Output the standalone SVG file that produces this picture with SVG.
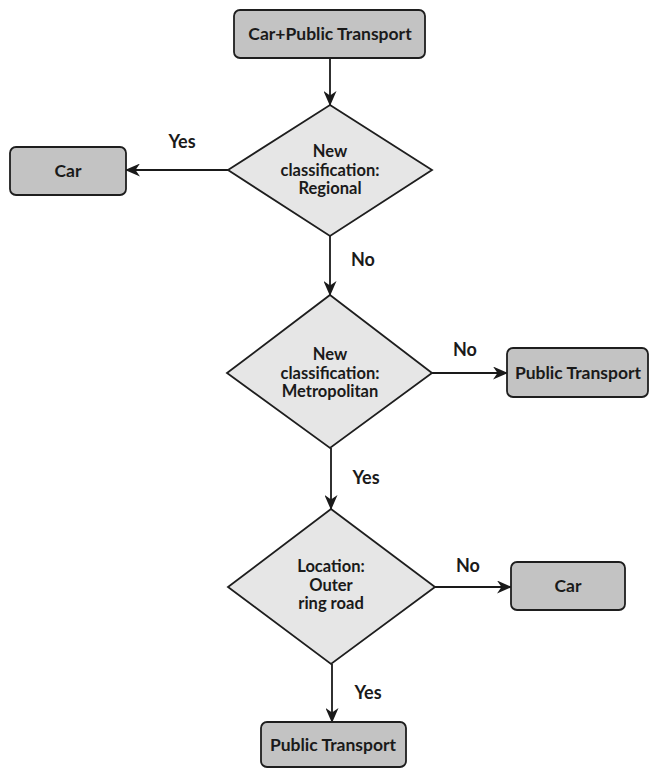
<svg xmlns="http://www.w3.org/2000/svg" width="649" height="768" viewBox="0 0 649 768">
<style>
.box{fill:#c3c3c3;stroke:#1e1e1e;stroke-width:1.8}
.dia{fill:#e6e6e6;stroke:#1e1e1e;stroke-width:1.8}
.t{font-family:Lato,"Open Sans",sans-serif;font-weight:bold;font-size:17.5px;fill:#1a1a1a;text-anchor:middle}
.d{font-family:Lato,"Open Sans",sans-serif;font-weight:bold;font-size:16.5px;fill:#1a1a1a;text-anchor:middle}
.lbl{font-family:Lato,"Open Sans",sans-serif;font-weight:bold;font-size:18px;fill:#1a1a1a;text-anchor:middle}
.c{fill:none;stroke:#1a1a1a;stroke-width:1.8}
</style>
<defs>
<marker id="arr" viewBox="0 0 15 13" refX="14" refY="6.5" markerWidth="15" markerHeight="13" markerUnits="userSpaceOnUse" orient="auto">
<path d="M0,0 L15,6.5 L0,13 L4.5,6.5 Z" fill="#1a1a1a"/>
</marker>
</defs>
<rect width="649" height="768" fill="#ffffff"/>
<g id="connectors">
<line class="c" x1="330" y1="58" x2="330" y2="105" marker-end="url(#arr)"/>
<line class="c" x1="228" y1="170" x2="126" y2="170" marker-end="url(#arr)"/>
<line class="c" x1="330" y1="236" x2="330" y2="295" marker-end="url(#arr)"/>
<line class="c" x1="432" y1="373" x2="507" y2="373" marker-end="url(#arr)"/>
<line class="c" x1="331" y1="448" x2="331" y2="509" marker-end="url(#arr)"/>
<line class="c" x1="435" y1="587" x2="511" y2="587" marker-end="url(#arr)"/>
<line class="c" x1="332" y1="664" x2="332" y2="722" marker-end="url(#arr)"/>
<text class="lbl" x="182" y="148">Yes</text>
<text class="lbl" x="363" y="266">No</text>
<text class="lbl" x="465" y="356">No</text>
<text class="lbl" x="366" y="484">Yes</text>
<text class="lbl" x="468" y="572">No</text>
<text class="lbl" x="368" y="699">Yes</text>
</g>
<g id="start">
<rect class="box" x="234" y="10" width="191" height="48" rx="6"/>
<text class="t" x="330" y="40">Car+Public Transport</text>
</g>
<g id="d1">
<polygon class="dia" points="330,105 432,170 330,236 228,170"/>
<text class="d" x="330" y="157">New</text>
<text class="d" x="330" y="175.5">classification:</text>
<text class="d" x="330" y="194">Regional</text>
</g>
<g id="car1">
<rect class="box" x="10" y="147" width="116" height="48" rx="6"/>
<text class="t" x="68" y="177">Car</text>
</g>
<g id="d2">
<polygon class="dia" points="330,295 432,373 330,448 227,373"/>
<text class="d" x="330" y="360">New</text>
<text class="d" x="330" y="378.5">classification:</text>
<text class="d" x="330" y="397">Metropolitan</text>
</g>
<g id="pt1">
<rect class="box" x="507" y="348" width="141" height="49" rx="6"/>
<text class="t" x="578" y="379">Public Transport</text>
</g>
<g id="d3">
<polygon class="dia" points="331,509 435,587 331,664 228,587"/>
<text class="d" x="331" y="572">Location:</text>
<text class="d" x="331" y="590.5">Outer</text>
<text class="d" x="331" y="609">ring road</text>
</g>
<g id="car2">
<rect class="box" x="511" y="562" width="114" height="48" rx="6"/>
<text class="t" x="568" y="592">Car</text>
</g>
<g id="pt2">
<rect class="box" x="261" y="722" width="145" height="45" rx="6"/>
<text class="t" x="333" y="751">Public Transport</text>
</g>
</svg>
